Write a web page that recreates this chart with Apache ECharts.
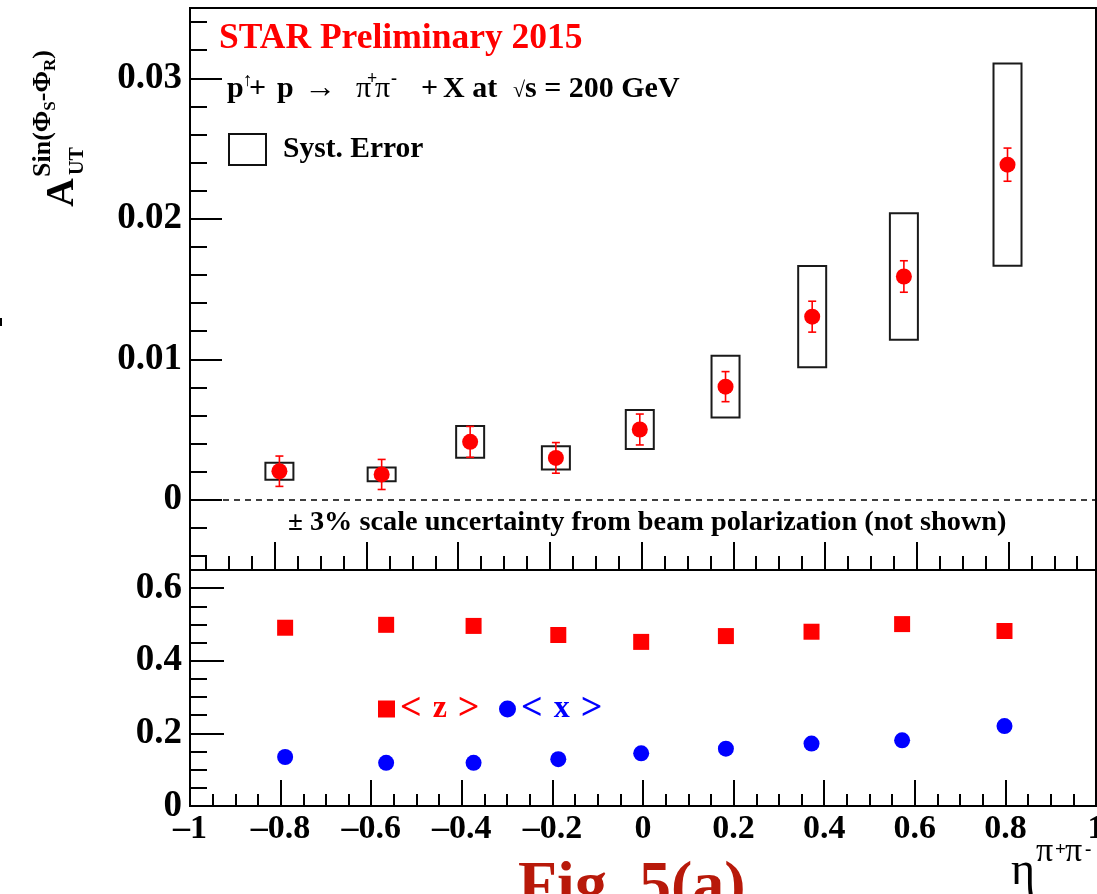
<!DOCTYPE html>
<html><head><meta charset="utf-8">
<script src="https://cdn.jsdelivr.net/npm/echarts@6/dist/echarts.min.js"></script>
<style>html,body{margin:0;padding:0;background:#fff;} #c{width:1097px;height:894px;}</style>
</head><body><div id="c"></div>
<script>
// ---------- data ----------
const eta     = [-0.79, -0.567, -0.374, -0.187, -0.004, 0.183, 0.372, 0.572, 0.798];
const asym    = [0.00203, 0.00180, 0.00412, 0.00298, 0.00500, 0.00805, 0.01303, 0.01589, 0.02385];
const statErr = [0.00108, 0.00107, 0.00110, 0.00109, 0.00110, 0.00107, 0.00110, 0.00112, 0.00118];
const systErr = [0.00060, 0.00049, 0.00113, 0.00083, 0.00139, 0.00220, 0.00360, 0.00450, 0.00720];
const meanZ   = [0.491, 0.499, 0.496, 0.471, 0.452, 0.468, 0.480, 0.501, 0.482];
const meanX   = [0.135, 0.119, 0.119, 0.129, 0.145, 0.158, 0.172, 0.181, 0.220];

const topYTicks = [0, 0.01, 0.02, 0.03];
const topYTickLabels = ['0', '0.01', '0.02', '0.03'];
const botYTicks = [0, 0.2, 0.4, 0.6];
const botYTickLabels = ['0', '0.2', '0.4', '0.6'];
const xTicks = [-1, -0.8, -0.6, -0.4, -0.2, 0, 0.2, 0.4, 0.6, 0.8, 1];
const xTickLabels = ['\u20131', '\u20130.8', '\u20130.6', '\u20130.4', '\u20130.2', '0', '0.2', '0.4', '0.6', '0.8', '1'];

// ---------- helpers ----------
const SERIF = 'Liberation Serif';
const r6 = v => Math.round(v * 1e6) / 1e6;
function minorTicks(from, to, step, majorStep) {
  const out = [];
  const n = Math.round((to - from) / step);
  for (let k = 0; k <= n; k++) {
    const v = r6(from + k * step);
    const q = v / majorStep;
    if (Math.abs(q - Math.round(q)) > 1e-6) out.push(v);
  }
  return out;
}
function labelFor(ticks, labels) {
  return v => { const i = ticks.findIndex(t => Math.abs(t - v) < 1e-7); return i >= 0 ? labels[i] : ''; };
}
const TOPX_MIN = -0.985, TOPX_MAX = 0.991;
const topXMajor = xTicks.filter(t => t > TOPX_MIN && t < TOPX_MAX);
const topXMinor = minorTicks(-0.95, 0.95, 0.05, 0.2);
const topYMinor = minorTicks(-0.004, 0.034, 0.002, 0.01);
const botYMinor = minorTicks(0.05, 0.6, 0.05, 0.2);

const ctx = document.createElement('canvas').getContext('2d');
function fontStr(p) { return (p.w || 'normal') + ' ' + p.s + 'px "' + (p.f || SERIF) + '"'; }
function textW(p) { ctx.font = fontStr(p); return ctx.measureText(p.t).width; }
function midOff(p) {
  ctx.font = fontStr(p);
  ctx.textBaseline = 'alphabetic'; const a = ctx.measureText('H').actualBoundingBoxAscent;
  ctx.textBaseline = 'middle'; const b = ctx.measureText('H').actualBoundingBoxAscent;
  ctx.textBaseline = 'alphabetic';
  return a - b;
}
function runText(parts, x0, base, color) {
  let x = x0; const out = [];
  parts.forEach(p => {
    if (p.at !== undefined) x = p.at;
    x += (p.gap || 0);
    out.push({ type: 'text', x: x, y: base + (p.dy || 0) - midOff(p), silent: true,
      style: { text: p.t, fill: p.c || color || '#000', fontSize: p.s, fontWeight: p.w || 'normal',
               fontFamily: p.f || SERIF, align: 'left', verticalAlign: 'middle' } });
    x += textW(p);
  });
  return out;
}

// ---------- text blocks ----------
const B = 'bold';
const starTitle = runText([{ t: 'STAR Preliminary 2015', s: 35.5, w: B }], 219, 48, '#ff0000');
const reaction = runText([
  { t: 'p', s: 30, w: B, at: 227 }, { t: '\u2191', s: 19, dy: -11, at: 243 }, { t: '+', s: 30, w: B, at: 249 },
  { t: 'p', s: 30, w: B, at: 277 }, { t: '\u2192', s: 32, at: 304 },
  { t: '\u03c0', s: 30, at: 356 }, { t: '+', s: 18, w: B, dy: -13, at: 367 },
  { t: '\u03c0', s: 30, at: 375 }, { t: '-', s: 18, w: B, dy: -13, at: 391 },
  { t: '+', s: 30, w: B, at: 421 }, { t: 'X at', s: 30, w: B, at: 443 },
  { t: '\u221a', s: 22, at: 513 }, { t: 's = 200 GeV', s: 30, w: B, at: 525 }
], 227, 97);
const scaleNote = runText([{ t: '\u00b1', s: 27, w: B }, { t: ' 3% scale uncertainty from beam polarization (not shown)', s: 28.3, w: B }], 288, 530);
const figLabel = runText([{ t: 'Fig. 5(a)', s: 64, w: B }], 518, 905, '#b8190a');
const xTitle = runText([
  { t: '\u03b7', s: 46, at: 1011 }, { t: '\u03c0', s: 34, dy: -23, at: 1036 }, { t: '+', s: 19, w: B, dy: -29, at: 1055 },
  { t: '\u03c0', s: 34, dy: -23, at: 1065 }, { t: '-', s: 19, w: B, dy: -29, at: 1085 }
], 1011, 884);
const yTitleChildren = [].concat(
  runText([{ t: 'A', s: 40, w: B }], 0, 0),
  runText([{ t: 'UT', s: 20, w: B }], 32, 10),
  runText([{ t: 'Sin(\u03a6', s: 26, w: B }, { t: 'S', s: 17, w: B, dy: 5 }, { t: '-\u03a6', s: 26, w: B },
           { t: 'R', s: 17, w: B, dy: 5 }, { t: ')', s: 26, w: B }], 30, -23)
);

// ---------- chart ----------
const tickLine = { color: '#000', width: 2 };
const lblFont = { fontFamily: SERIF, fontWeight: 'bold', color: '#000' };
const noLine = { show: false, onZero: false };
const richLegend = col => ({
  b: { fontSize: 38, fontFamily: SERIF, fontWeight: 'bold', color: col },
  s: { fontSize: 44, fontFamily: SERIF, fontWeight: 'bold', color: col },
  m: { fontSize: 32, fontFamily: SERIF, fontWeight: 'bold', color: col }
});

const option = {
  animation: false,
  backgroundColor: '#fff',
  grid: [
    { left: 190, top: 8, right: 1, height: 562, show: true, borderColor: '#000', borderWidth: 2, backgroundColor: 'transparent', outerBoundsMode: 'none', containLabel: false },
    { left: 190, top: 570, right: 1, height: 236, show: true, borderColor: '#000', borderWidth: 2, backgroundColor: 'transparent', outerBoundsMode: 'none', containLabel: false }
  ],
  xAxis: [
    { gridIndex: 0, type: 'value', min: TOPX_MIN, max: TOPX_MAX, position: 'bottom', axisLine: noLine, splitLine: { show: false },
      axisLabel: { show: false }, axisTick: { show: true, inside: true, length: 28, lineStyle: tickLine, customValues: topXMajor } },
    { gridIndex: 0, type: 'value', min: TOPX_MIN, max: TOPX_MAX, position: 'bottom', axisLine: noLine, splitLine: { show: false },
      axisLabel: { show: false }, axisTick: { show: true, inside: true, length: 14, lineStyle: tickLine, customValues: topXMinor } },
    { gridIndex: 1, type: 'value', min: -1, max: 1, interval: 0.2, position: 'bottom',
      axisLine: { show: true, onZero: false, lineStyle: { color: '#000', width: 2 } }, splitLine: { show: false },
      axisTick: { show: true, inside: true, length: 26, lineStyle: tickLine },
      minorTick: { show: true, splitNumber: 4, length: 12, lineStyle: tickLine },
      axisLabel: Object.assign({ interval: 0, fontSize: 34, margin: 6, showMinLabel: true, showMaxLabel: true,
        formatter: labelFor(xTicks, xTickLabels) }, lblFont) }
  ],
  yAxis: [
    { gridIndex: 0, type: 'value', min: -0.005, max: 0.035, position: 'left', axisLine: noLine, splitLine: { show: false },
      axisTick: { show: true, inside: true, length: 32, lineStyle: tickLine, customValues: topYTicks },
      axisLabel: Object.assign({ fontSize: 37, margin: 8, customValues: topYTicks, formatter: labelFor(topYTicks, topYTickLabels) }, lblFont) },
    { gridIndex: 0, type: 'value', min: -0.005, max: 0.035, position: 'left', axisLine: noLine, splitLine: { show: false },
      axisTick: { show: true, inside: true, length: 17, lineStyle: tickLine, customValues: topYMinor }, axisLabel: { show: false } },
    { gridIndex: 1, type: 'value', min: 0, max: 0.65, position: 'left', axisLine: noLine, splitLine: { show: false },
      axisTick: { show: true, inside: true, length: 34, lineStyle: tickLine, customValues: botYTicks },
      axisLabel: Object.assign({ fontSize: 37, margin: 8, customValues: botYTicks, formatter: labelFor(botYTicks, botYTickLabels) }, lblFont) },
    { gridIndex: 1, type: 'value', min: 0, max: 0.65, position: 'left', axisLine: noLine, splitLine: { show: false },
      axisTick: { show: true, inside: true, length: 17, lineStyle: tickLine, customValues: botYMinor }, axisLabel: { show: false } }
  ],
  legend: [
    { left: 228, top: 133, padding: 0, itemWidth: 37, itemHeight: 31, selectedMode: false,
      data: [{ name: 'Syst. Error', icon: 'rect', itemStyle: { color: 'rgba(0,0,0,0)', borderColor: '#111', borderWidth: 2 } }],
      textStyle: { fontFamily: SERIF, fontWeight: 'bold', fontSize: 29.5, color: '#000', padding: [0, 0, 0, 12] } },
    { left: 378, top: 687, padding: 0, itemWidth: 17, itemHeight: 17, selectedMode: false,
      data: [{ name: '<z>', icon: 'rect' }], formatter: () => '{b|<}{s| }{m|z}{s| }{b|>}',
      textStyle: { fontFamily: SERIF, fontWeight: 'bold', fontSize: 32, color: '#ff0000', rich: richLegend('#ff0000') } },
    { left: 499, top: 687, padding: 0, itemWidth: 17, itemHeight: 17, selectedMode: false,
      data: [{ name: '<x>', icon: 'circle' }], formatter: () => '{b|<}{s| }{m|x}{s| }{b|>}',
      textStyle: { fontFamily: SERIF, fontWeight: 'bold', fontSize: 32, color: '#0000ff', rich: richLegend('#0000ff') } }
  ],
  series: [
    { name: 'Syst. Error', type: 'custom', xAxisIndex: 0, yAxisIndex: 0, silent: true, z: 3,
      data: eta.map((x, i) => [x, asym[i], systErr[i]]), encode: { x: 0, y: 1 },
      renderItem: (params, api) => {
        const x = api.value(0), y = api.value(1), s = api.value(2);
        const top = api.coord([x, y + s]), bot = api.coord([x, y - s]);
        return { type: 'rect', shape: { x: top[0] - 14, y: top[1], width: 28, height: bot[1] - top[1] },
                 style: { fill: 'none', stroke: '#1a1a1a', lineWidth: 2 } };
      } },
    { name: 'stat', type: 'custom', xAxisIndex: 0, yAxisIndex: 0, silent: true, z: 4,
      data: eta.map((x, i) => [x, asym[i], statErr[i]]), encode: { x: 0, y: 1 },
      renderItem: (params, api) => {
        const x = api.value(0), y = api.value(1), e = api.value(2);
        const top = api.coord([x, y + e]), bot = api.coord([x, y - e]);
        const st = { stroke: '#ff0000', lineWidth: 1.6 };
        return { type: 'group', children: [
          { type: 'line', shape: { x1: top[0], y1: top[1], x2: bot[0], y2: bot[1] }, style: st },
          { type: 'line', shape: { x1: top[0] - 4, y1: top[1], x2: top[0] + 4, y2: top[1] }, style: st },
          { type: 'line', shape: { x1: bot[0] - 4, y1: bot[1], x2: bot[0] + 4, y2: bot[1] }, style: st }
        ] };
      } },
    { name: 'A_UT', type: 'scatter', xAxisIndex: 0, yAxisIndex: 0, z: 5, symbol: 'circle', symbolSize: 16,
      itemStyle: { color: '#ff0000', opacity: 1 }, data: eta.map((x, i) => [x, asym[i]]),
      markLine: { silent: true, symbol: ['none', 'none'], label: { show: false },
        lineStyle: { color: '#000', type: [6, 5], width: 1.5 }, data: [{ yAxis: 0 }] } },
    { name: '<z>', type: 'scatter', xAxisIndex: 2, yAxisIndex: 2, symbol: 'rect', symbolSize: 16,
      itemStyle: { color: '#ff0000', opacity: 1 }, data: eta.map((x, i) => [x, meanZ[i]]) },
    { name: '<x>', type: 'scatter', xAxisIndex: 2, yAxisIndex: 2, symbol: 'circle', symbolSize: 16,
      itemStyle: { color: '#0000ff', opacity: 1 }, data: eta.map((x, i) => [x, meanX[i]]) }
  ],
  graphic: [].concat(
    starTitle, reaction, scaleNote, figLabel, xTitle,
    [{ type: 'group', x: 73, y: 207, rotation: Math.PI / 2, children: yTitleChildren },
     { type: 'rect', shape: { x: 0, y: 318, width: 2, height: 8 }, style: { fill: '#000' }, silent: true }]
  )
};

const chart = echarts.init(document.getElementById('c'), null, { renderer: 'canvas' });
chart.setOption(option);
</script>
</body></html>
